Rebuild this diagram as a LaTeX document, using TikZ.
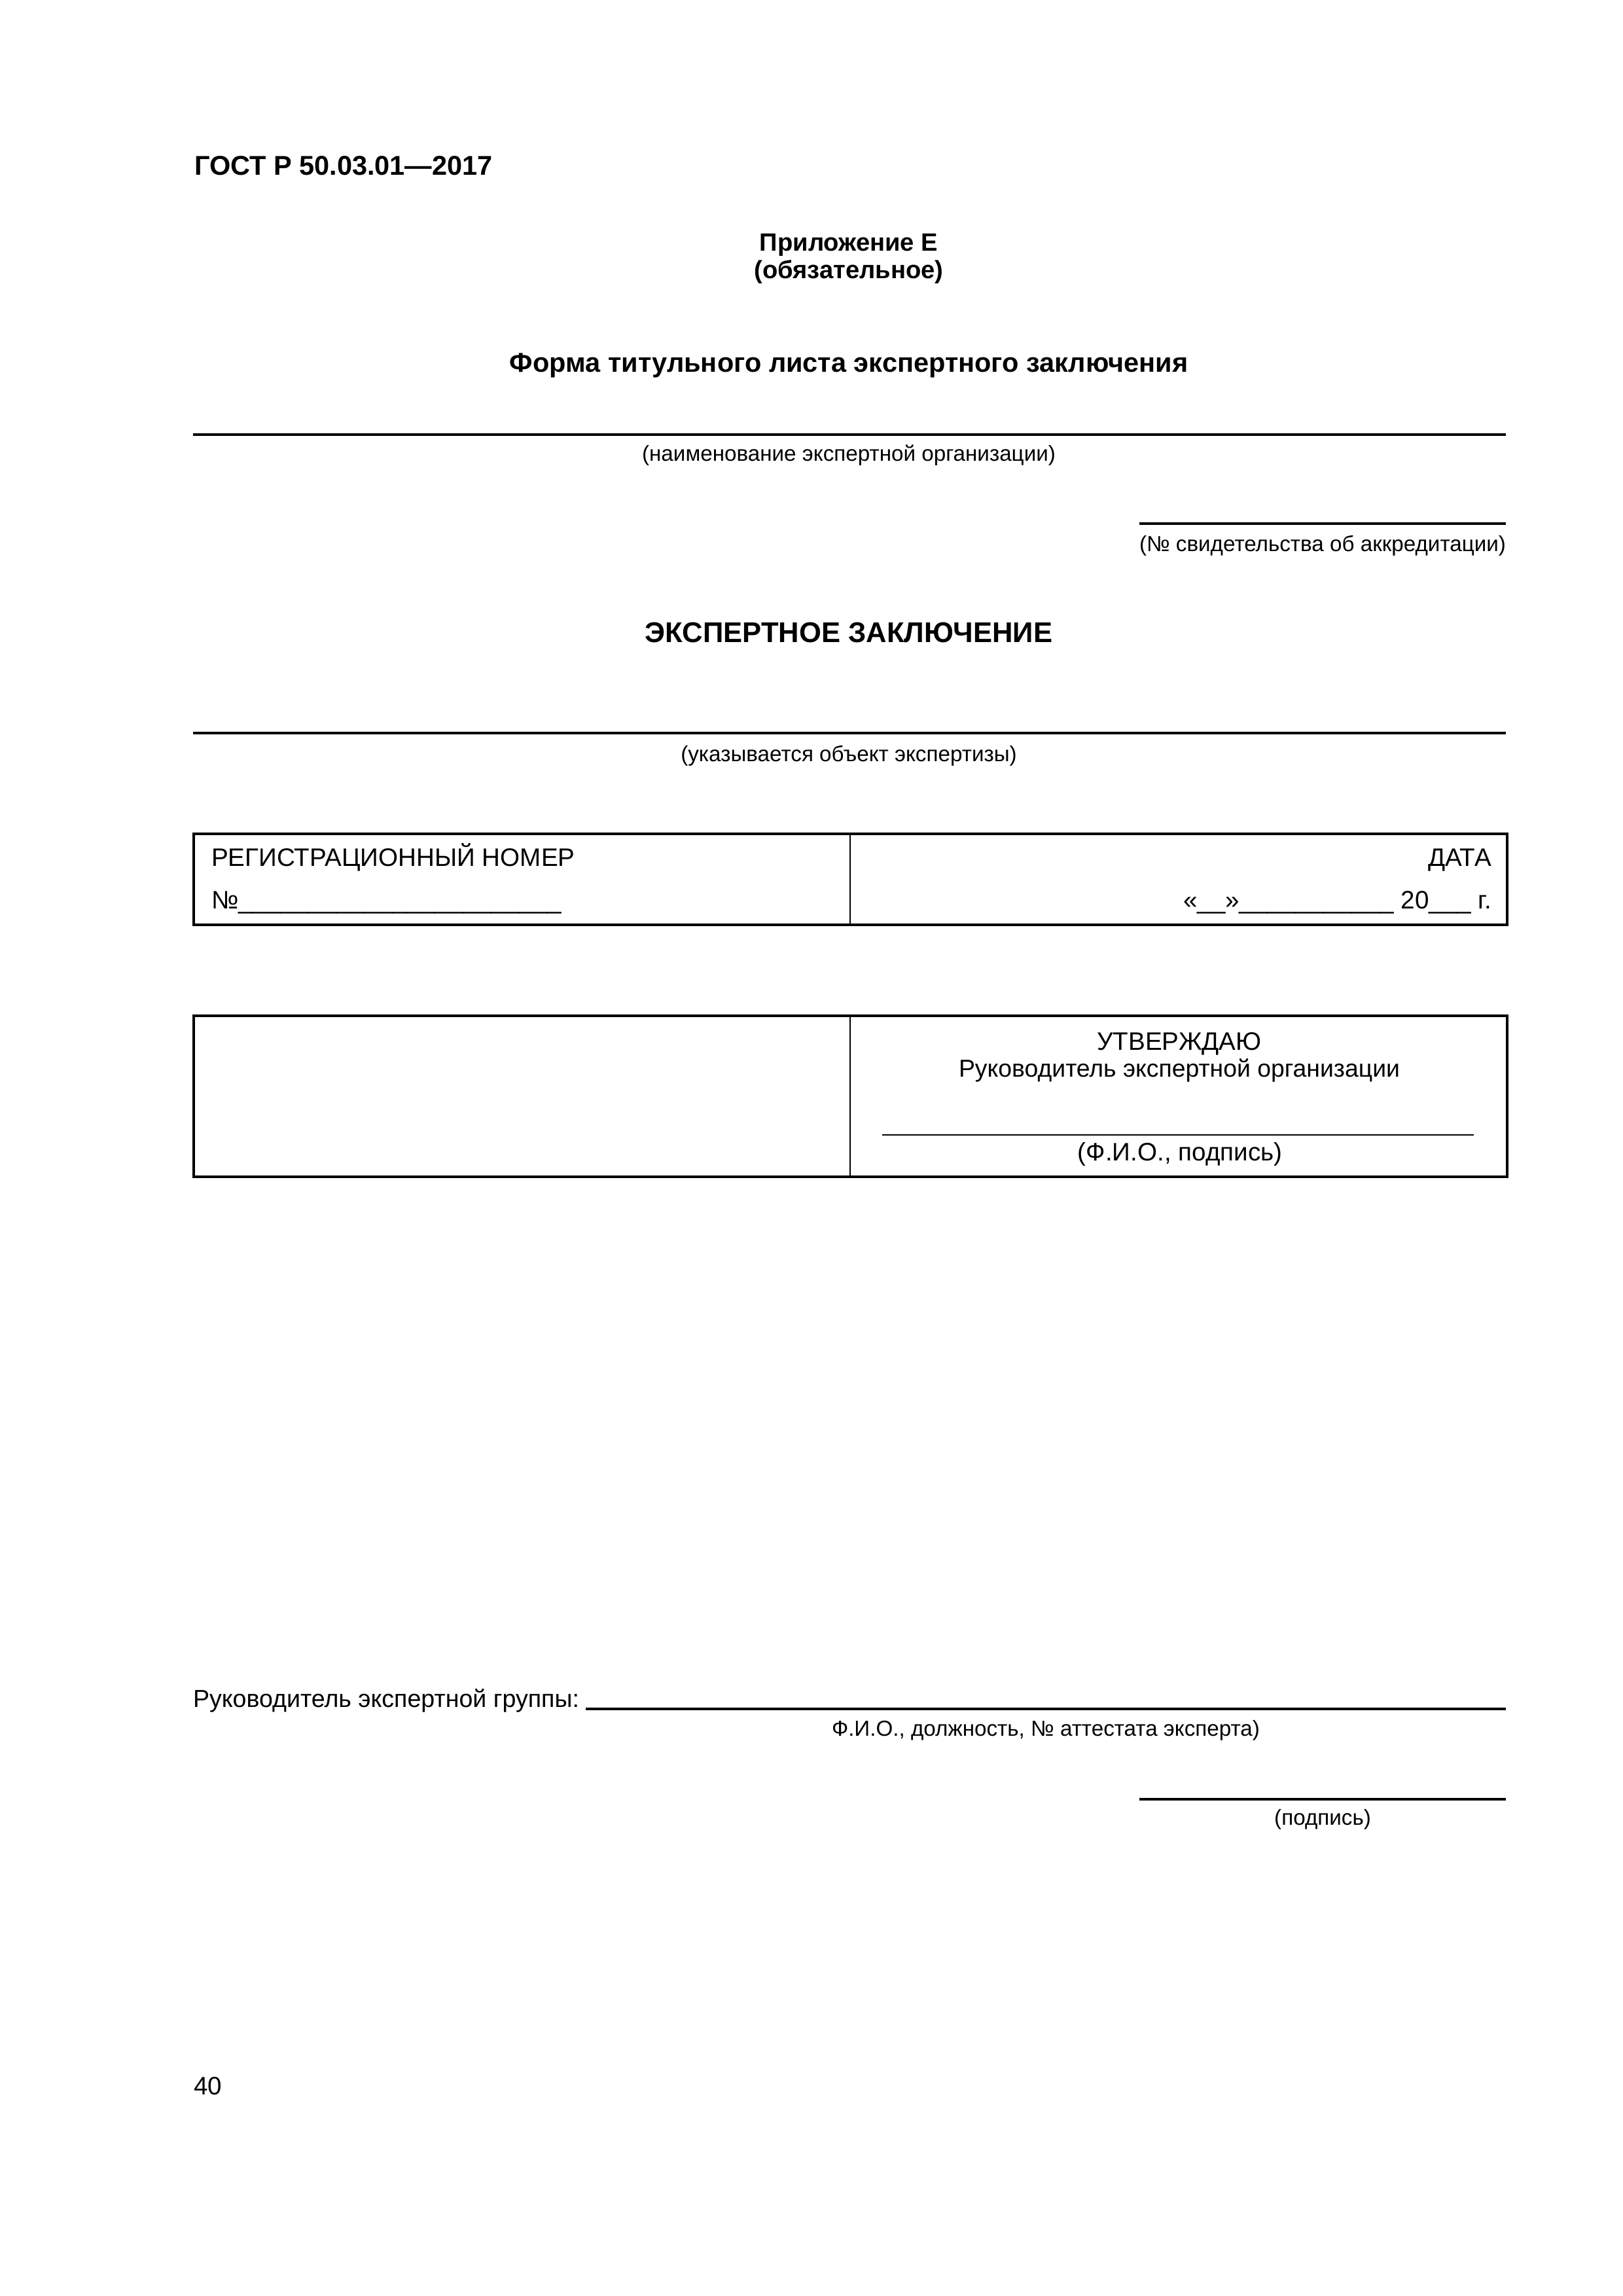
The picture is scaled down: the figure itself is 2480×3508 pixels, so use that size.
\documentclass[tikz,border=0pt]{standalone}
\usepackage{fontspec}
\setmainfont{Liberation Sans}
\begin{document}
\begin{tikzpicture}[x=0.0846667mm,y=-0.0846667mm,
  txt/.style={inner sep=0pt,outer sep=0pt,anchor=base},
  body/.style={txt,font=\fontsize{9.3}{11}\selectfont},
  capt/.style={txt,font=\fontsize{8}{10}\selectfont},
  head/.style={txt,font=\fontsize{10}{12}\selectfont\bfseries},
  rulel/.style={line width=0.75pt},
  framel/.style={line width=1pt},
  thinl/.style={line width=0.5pt}]
\useasboundingbox[fill=white] (0,0) rectangle (2480,3508);

% header
\node[head,anchor=base west] (gost) at (297,267) {ГОСТ Р 50.03.01—2017};
\node[head,font=\fontsize{9.2}{11}\selectfont\bfseries] (app) at (1297,383) {Приложение Е};
\node[head,font=\fontsize{9.2}{11}\selectfont\bfseries] (oblig) at (1297,425) {(обязательное)};
\node[head] (title) at (1297,568) {Форма титульного листа экспертного заключения};

% organisation
\coordinate (l1a) at (295,664); \coordinate (l1b) at (2301,664);
\draw[rulel] (l1a) -- (l1b);
\node[capt] (c1) at (1297,704) {(наименование экспертной организации)};
\coordinate (l2a) at (1741,800); \coordinate (l2b) at (2301,800);
\draw[rulel] (l2a) -- (l2b);
\node[capt,anchor=base east] (c2) at (2301,842) {(№ свидетельства об аккредитации)};

\node[head,font=\fontsize{10.5}{12}\selectfont\bfseries] (concl) at (1297,981) {ЭКСПЕРТНОЕ ЗАКЛЮЧЕНИЕ};
\coordinate (l3a) at (295,1120); \coordinate (l3b) at (2301,1120);
\draw[rulel] (l3a) -- (l3b);
\node[capt] (c3) at (1297,1163) {(указывается объект экспертизы)};

% table 1
\coordinate (t1a) at (296,1274); \coordinate (t1b) at (2303,1413);
\coordinate (t1c) at (1299,1274); \coordinate (t1d) at (1299,1413);
\draw[framel] (t1a) rectangle (t1b);
\draw[thinl] (t1c) -- (t1d);
\node[body,anchor=base west] (reg) at (323,1323) {РЕГИСТРАЦИОННЫЙ НОМЕР};
\node[body,anchor=base west] (regno) at (323,1388) {№\_\_\_\_\_\_\_\_\_\_\_\_\_\_\_\_\_\_\_\_\_\_\_};
\node[body,anchor=base east] (date) at (2279,1323) {ДАТА};
\node[body,anchor=base east] (dateval) at (2279,1388) {«\_\_»\_\_\_\_\_\_\_\_\_\_\_ 20\_\_\_ г.};

% table 2
\coordinate (t2a) at (296,1552); \coordinate (t2b) at (2303,1798);
\coordinate (t2c) at (1299,1552); \coordinate (t2d) at (1299,1798);
\draw[framel] (t2a) rectangle (t2b);
\draw[thinl] (t2c) -- (t2d);
\node[body] (appr) at (1802,1604) {УТВЕРЖДАЮ};
\node[body,font=\fontsize{9}{11}\selectfont] (head1) at (1802,1645) {Руководитель экспертной организации};
\coordinate (l4a) at (1348,1734); \coordinate (l4b) at (2252,1734);
\draw[thinl] (l4a) -- (l4b);
\node[body] (fio1) at (1803,1773) {(Ф.И.О., подпись)};

% bottom
\node[body,font=\fontsize{9.05}{11}\selectfont,anchor=base west] (grp) at (295,2608) {Руководитель экспертной группы:};
\coordinate (l5a) at (895,2611); \coordinate (l5b) at (2301,2611);
\draw[rulel] (l5a) -- (l5b);
\node[capt] (fio2) at (1598,2652) {Ф.И.О., должность, № аттестата эксперта)};
\coordinate (l6a) at (1741,2749); \coordinate (l6b) at (2301,2749);
\draw[rulel] (l6a) -- (l6b);
\node[capt] (sig) at (2021,2788) {(подпись)};

\node[body,anchor=base west] (page) at (296,3200) {40};
\end{tikzpicture}
\end{document}
